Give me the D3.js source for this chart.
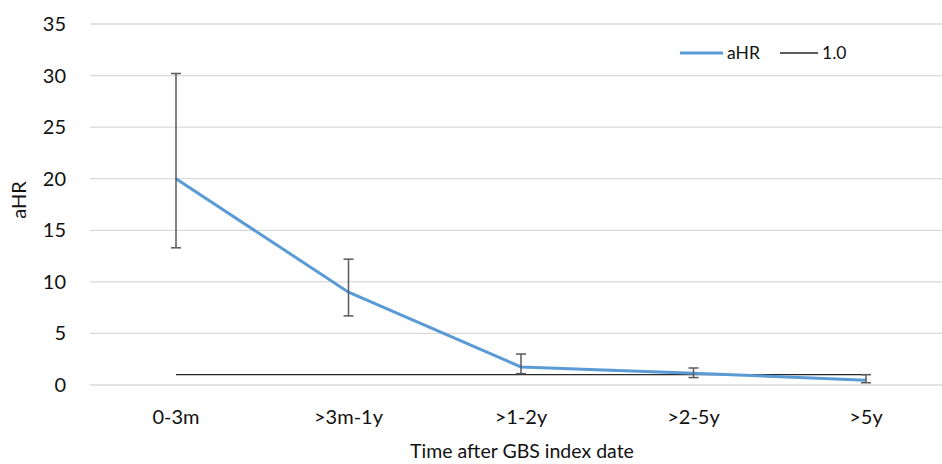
<!DOCTYPE html>
<html>
<head>
<meta charset="utf-8">
<script src="https://cdn.jsdelivr.net/npm/d3@7"></script>
<style>
  body { margin: 0; background: #fff; }
  text { font-family: Lato, "Open Sans", sans-serif; fill: #111; }
</style>
</head>
<body>
<svg width="942" height="464"></svg>
<script>
var categories = ["0-3m", ">3m-1y", ">1-2y", ">2-5y", ">5y"];
var ahr = [20.0, 9.0, 1.75, 1.15, 0.45];
var upper = [30.2, 12.2, 3.0, 1.65, 1.0];
var lower = [13.3, 6.7, 1.1, 0.72, 0.22];
var refValue = 1.0;
var yTicks = [0, 5, 10, 15, 20, 25, 30, 35];

var svg = d3.select("svg");

var x = d3.scalePoint()
    .domain(categories)
    .range([176, 866]);

var y = d3.scaleLinear()
    .domain([0, 35])
    .range([385, 24]);

// grid
svg.append("g").selectAll("line")
    .data(yTicks)
    .enter().append("line")
    .attr("x1", 90)
    .attr("x2", 942)
    .attr("y1", function(d){return y(d);})
    .attr("y2", function(d){return y(d);})
    .attr("stroke", "#d9d9d9")
    .attr("stroke-width", 1.3);

// y tick labels
svg.append("g").selectAll("text")
    .data(yTicks)
    .enter().append("text")
    .attr("x", 66)
    .attr("y", function(d){return y(d);})
    .attr("dy", "0.35em")
    .attr("text-anchor", "end")
    .attr("font-size", 20)
    .text(function(d){return d;});

// x tick labels
svg.append("g").selectAll("text")
    .data(categories)
    .enter().append("text")
    .attr("x", function(d){return x(d);})
    .attr("y", 424)
    .attr("text-anchor", "middle")
    .attr("font-size", 20)
    .text(function(d){return d;});

// axis titles
svg.append("text")
    .attr("transform", "translate(26,200) rotate(-90)")
    .attr("text-anchor", "middle")
    .attr("font-size", 20)
    .text("aHR");

svg.append("text")
    .attr("x", 522)
    .attr("y", 458)
    .attr("text-anchor", "middle")
    .attr("font-size", 19.5)
    .text("Time after GBS index date");

// reference line 1.0
svg.append("line")
    .attr("x1", x(categories[0]))
    .attr("x2", x(categories[categories.length-1]))
    .attr("y1", y(refValue))
    .attr("y2", y(refValue))
    .attr("stroke", "#262626")
    .attr("stroke-width", 1.3);

// aHR line
var line = d3.line()
    .x(function(d,i){return x(categories[i]);})
    .y(function(d){return y(d);});

svg.append("path")
    .datum(ahr)
    .attr("d", line)
    .attr("fill", "none")
    .attr("stroke", "#5b9bd5")
    .attr("stroke-width", 3);

// error bars
var bars = svg.append("g").selectAll("g")
    .data(categories)
    .enter().append("g")
    .attr("stroke", "#595959")
    .attr("stroke-width", 1.5);

bars.append("line")
    .attr("x1", function(d){return x(d);})
    .attr("x2", function(d){return x(d);})
    .attr("y1", function(d,i){return y(upper[i]);})
    .attr("y2", function(d,i){return y(lower[i]);});

bars.append("line")
    .attr("x1", function(d){return x(d)-5;})
    .attr("x2", function(d){return x(d)+5;})
    .attr("y1", function(d,i){return y(upper[i]);})
    .attr("y2", function(d,i){return y(upper[i]);});

bars.append("line")
    .attr("x1", function(d){return x(d)-5;})
    .attr("x2", function(d){return x(d)+5;})
    .attr("y1", function(d,i){return y(lower[i]);})
    .attr("y2", function(d,i){return y(lower[i]);});

// legend
var legend = svg.append("g");
legend.append("line")
    .attr("x1", 680).attr("x2", 723)
    .attr("y1", 53).attr("y2", 53)
    .attr("stroke", "#5b9bd5").attr("stroke-width", 3);
legend.append("text")
    .attr("x", 727).attr("y", 53).attr("dy", "0.35em")
    .attr("font-size", 17.5)
    .text("aHR");
legend.append("line")
    .attr("x1", 780).attr("x2", 818)
    .attr("y1", 53).attr("y2", 53)
    .attr("stroke", "#262626").attr("stroke-width", 1.3);
legend.append("text")
    .attr("x", 822).attr("y", 53).attr("dy", "0.35em")
    .attr("font-size", 17.5)
    .text("1.0");
</script>
</body>
</html>
